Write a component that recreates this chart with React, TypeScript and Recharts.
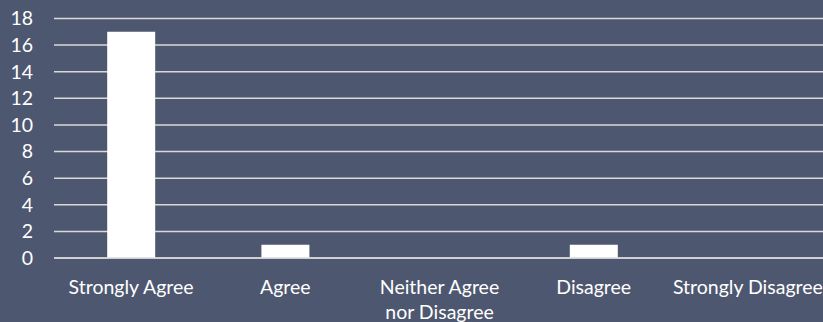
import React from 'react';
import { BarChart, Bar, XAxis, YAxis, CartesianGrid } from 'recharts';

const categories = ['Strongly Agree', 'Agree', 'Neither Agree nor Disagree', 'Disagree', 'Strongly Disagree'];
const responses = [17, 1, 0, 1, 0];
const yTicks = [0, 2, 4, 6, 8, 10, 12, 14, 16, 18];

const data = categories.map((c, i) => ({ category: c, value: responses[i] }));

const FONT = 'Lato, "Open Sans", sans-serif';
const TEXT = '#ffffff';
const FS = 19.5;

const XTick = (props: any) => {
  const { x, y, payload } = props;
  const label: string = payload.value;
  const idx = label.indexOf(' nor ');
  const lines = idx >= 0 ? [label.slice(0, idx), label.slice(idx + 1)] : [label];
  return (
    <g>
      {lines.map((l, i) => (
        <text key={i} x={x} y={y + i * 24.5} dy={28} textAnchor="middle" fill={TEXT} fontFamily={FONT} fontSize={FS}>
          {l}
        </text>
      ))}
    </g>
  );
};

export default function App() {
  return (
    <div style={{ position: 'absolute', left: 0, top: 0, width: 823, height: 322, background: '#4e5770' }}>
      <BarChart width={823} height={322} data={data} margin={{ top: 18.5, right: -2, left: 0, bottom: 0 }} barCategoryGap="34.5%">
        <CartesianGrid vertical={false} stroke="#d9d9d9" strokeWidth={1.5} />
        <YAxis
          domain={[0, 18]}
          ticks={yTicks}
          width={54}
          axisLine={false}
          tickLine={false}
          tickSize={0}
          tickMargin={21}
          interval={0}
          tick={{ fill: TEXT, fontFamily: FONT, fontSize: FS }}
        />
        <XAxis
          dataKey="category"
          axisLine={{ stroke: '#d9d9d9', strokeWidth: 1.5 }}
          tickLine={false}
          interval={0}
          height={64}
          tick={<XTick />}
        />
        <Bar dataKey="value" fill="#ffffff" isAnimationActive={false} />
      </BarChart>
    </div>
  );
}
